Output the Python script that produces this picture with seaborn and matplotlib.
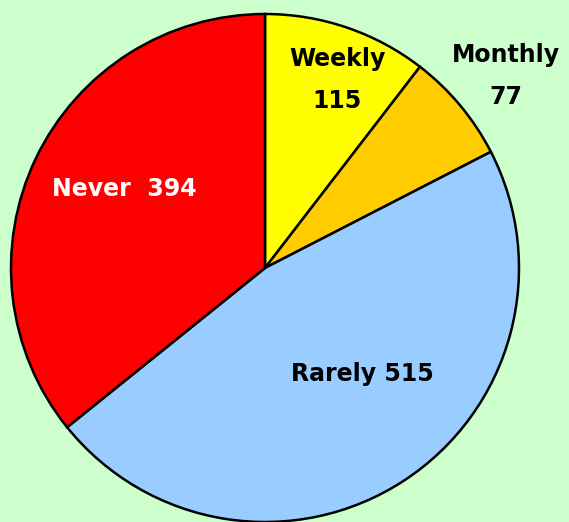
import matplotlib
matplotlib.use("Agg")
import matplotlib.pyplot as plt
import seaborn as sns

categories = ["Weekly", "Monthly", "Rarely", "Never"]
counts = [115, 77, 515, 394]
slice_colors = ["#FFFF00", "#FFCC00", "#99CCFF", "#FF0000"]

sns.set_style("white")
plt.rcParams['font.family'] = ['DejaVu Sans']

fig = plt.figure(figsize=(5.69, 5.22), dpi=100, facecolor="#CCFFCC")
# circle centre ~ (265, 268) px, radius ~254 px
ax = fig.add_axes([(265 - 254) / 569, (522 - 268 - 254) / 522, 508 / 569, 508 / 522])
ax.set_facecolor("#CCFFCC")

wedges, _ = ax.pie(counts, colors=slice_colors, startangle=90, counterclock=False,
                   wedgeprops=dict(edgecolor="black", linewidth=1.8))
ax.set_xlim(-1, 1)
ax.set_ylim(-1, 1)
ax.set_aspect("equal")
ax.axis("off")

def px(x, y):
    # pixel position in the figure -> data coords of the pie
    return ((x - 265) / 254, (268 - y) / 254)

label_pos = {"Weekly": (337, 80), "Monthly": (506, 76), "Rarely": (362, 374), "Never": (124, 189)}
label_text = {"Weekly": "Weekly\n115", "Monthly": "Monthly\n77",
              "Rarely": "Rarely 515", "Never": "Never  394"}
label_color = {"Weekly": "black", "Monthly": "black", "Rarely": "black", "Never": "white"}

for cat, n in zip(categories, counts):
    x, y = px(*label_pos[cat])
    ax.text(x, y, label_text[cat], ha="center", va="center", fontsize=17,
            fontweight="bold", color=label_color[cat], linespacing=1.95, clip_on=False)

fig.savefig("out.png", dpi=100, facecolor=fig.get_facecolor())
